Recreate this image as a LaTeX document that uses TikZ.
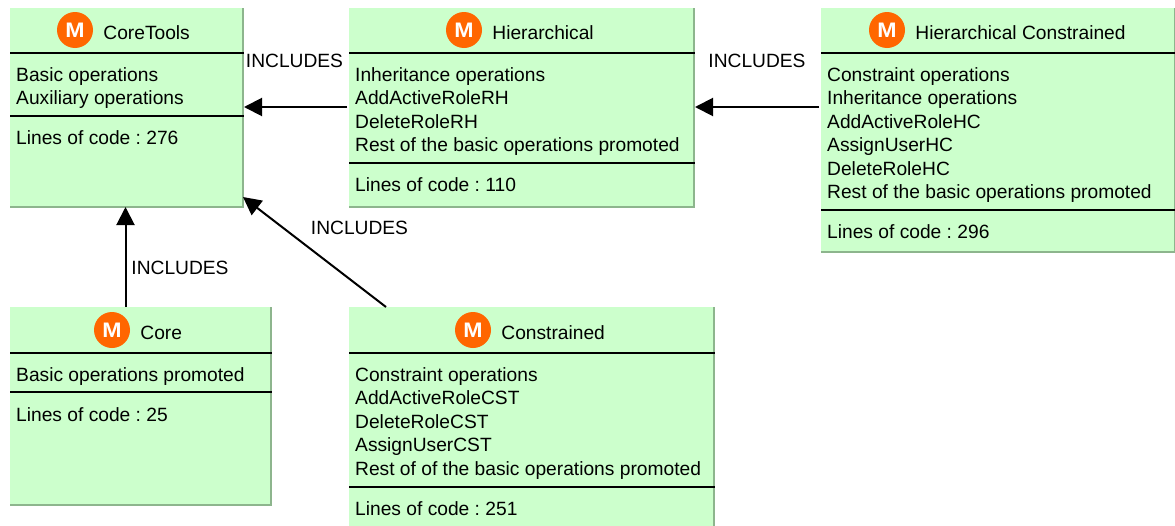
\documentclass[tikz,border=0pt]{standalone}
\usepackage{fontspec}
\setmainfont{Liberation Sans}
\frenchspacing
\usetikzlibrary{arrows.meta,positioning}
\definecolor{boxgreen}{HTML}{CCFFCC}
\definecolor{edgegreen}{HTML}{8DB58D}
\definecolor{badgeorange}{HTML}{FF6600}
\newcommand{\mletter}{\scalebox{1.1}[1]{M}}
\tikzset{
  modulebox/.style={anchor=north west,fill=boxgreen,inner sep=0,outer sep=0},
  boxedge/.style={draw=edgegreen,line width=2pt},
  boxrule/.style={draw=black,line width=1.5pt,shorten >=-1pt},
  badge/.style={circle,fill=badgeorange,text=white,inner sep=0,minimum size=36pt,font=\fontsize{21}{21}\selectfont\bfseries},
  titletext/.style={right=10pt of #1,inner sep=0,font=\fontsize{19.2}{22}\selectfont},
  bodytext/.style={anchor=north west,inner sep=0,align=left,font=\fontsize{19.2}{23.5}\selectfont},
  linklabel/.style={inner sep=0,font=\fontsize{19.2}{22}\selectfont},
  includes/.style={draw=black,line width=2pt,-{Triangle[length=18pt,width=18pt]}}
}
\begin{document}
\begin{tikzpicture}[x=1pt,y=-1pt]
\useasboundingbox (0,0) rectangle (1175,525);
% boxes
\node[modulebox,minimum width=233,minimum height=199] (coretools) at (10,8) {};
\node[modulebox,minimum width=345,minimum height=199] (hier) at (349,8) {};
\node[modulebox,minimum width=354,minimum height=244] (hc) at (821,8) {};
\node[modulebox,minimum width=261,minimum height=198] (core) at (10,307) {};
\node[modulebox,minimum width=365,minimum height=222] (cst) at (349,307) {};
\foreach \n in {coretools,hier,hc,core,cst}
  \draw[boxedge] (\n.north east) -- (\n.south east) -- (\n.south west);
\foreach \n/\y in {coretools/53,coretools/116,hier/53,hier/163,hc/53,hc/210,core/353,core/392,cst/353,cst/487}
  \draw[boxrule] (\n.west |- 0,\y) -- (\n.east |- 0,\y);
% titles
\node[badge] (coretoolsm) at (75,30) {\mletter};
\node[titletext=coretoolsm,yshift=-3pt] (coretoolstitle) {CoreTools};
\node[badge] (hierm) at (464,30) {\mletter};
\node[titletext=hierm,yshift=-3pt] (hiertitle) {Hierarchical};
\node[badge] (hcm) at (887,30) {\mletter};
\node[titletext=hcm,yshift=-3pt] (hctitle) {Hierarchical Constrained};
\node[badge] (corem) at (112,330) {\mletter};
\node[titletext=corem,yshift=-3pt] (coretitle) {Core};
\node[badge] (cstm) at (473,330) {\mletter};
\node[titletext=cstm,yshift=-3pt] (csttitle) {Constrained};
% compartments
\node[bodytext] (coretoolsops) at (16,67) {Basic operations\\Auxiliary operations};
\node[bodytext] (coretoolsloc) at (16,130) {Lines of code : 276};
\node[bodytext] (hierops) at (355,67) {Inheritance operations\\AddActiveRoleRH\\DeleteRoleRH\\Rest of the basic operations promoted};
\node[bodytext] (hierloc) at (355,177) {Lines of code : 110};
\node[bodytext] (hcops) at (827,67) {Constraint operations\\Inheritance operations\\AddActiveRoleHC\\AssignUserHC\\DeleteRoleHC\\Rest of the basic operations promoted};
\node[bodytext] (hcloc) at (827,224) {Lines of code : 296};
\node[bodytext] (coreops) at (16,367) {Basic operations promoted};
\node[bodytext] (coreloc) at (16,407) {Lines of code : 25};
\node[bodytext] (cstops) at (355,367) {Constraint operations\\AddActiveRoleCST\\DeleteRoleCST\\AssignUserCST\\Rest of of the basic operations promoted};
\node[bodytext] (cstloc) at (355,501) {Lines of code : 251};
% connectors
\coordinate (hierin) at (694,107);
\coordinate (hcout) at (hc.west |- hierin);
\coordinate (hierout) at (hier.west |- hierin);
\coordinate (coretoolsside) at (coretools.east |- hierin);
\coordinate (coretoolsin) at (125.5,207);
\coordinate (corebottom) at (core.north -| coretoolsin);
\coordinate (cstout) at (386,307);
\coordinate (coretoolscorner) at (243,197);
\draw[includes,shorten >=1pt,shorten <=2pt] (hierout) -- (coretoolsside);
\draw[includes,shorten >=1pt,shorten <=2pt] (hcout) -- (hierin);
\draw[includes] (corebottom) -- (coretoolsin);
\draw[includes] (cstout) -- (coretoolscorner);
\node[linklabel] (inclhier) at (294.5,61) {INCLUDES};
\node[linklabel] (inclhc) at (757,61) {INCLUDES};
\node[linklabel] (inclcore) at (180,268) {INCLUDES};
\node[linklabel] (inclcst) at (359.5,228) {INCLUDES};
\end{tikzpicture}
\end{document}
